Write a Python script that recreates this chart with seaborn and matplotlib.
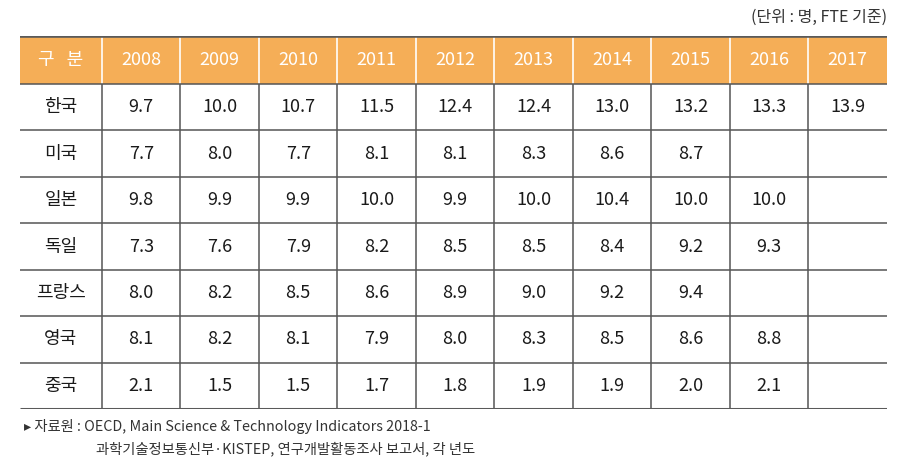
import matplotlib
matplotlib.use("Agg")
import matplotlib.pyplot as plt
import numpy as np
import pandas as pd
import seaborn as sns

# 표 데이터
연도 = ["2008", "2009", "2010", "2011", "2012", "2013", "2014", "2015", "2016", "2017"]
국가 = ["한국", "미국", "일본", "독일", "프랑스", "영국", "중국"]
한국 = [9.7, 10.0, 10.7, 11.5, 12.4, 12.4, 13.0, 13.2, 13.3, 13.9]
미국 = [7.7, 8.0, 7.7, 8.1, 8.1, 8.3, 8.6, 8.7, np.nan, np.nan]
일본 = [9.8, 9.9, 9.9, 10.0, 9.9, 10.0, 10.4, 10.0, 10.0, np.nan]
독일 = [7.3, 7.6, 7.9, 8.2, 8.5, 8.5, 8.4, 9.2, 9.3, np.nan]
프랑스 = [8.0, 8.2, 8.5, 8.6, 8.9, 9.0, 9.2, 9.4, np.nan, np.nan]
영국 = [8.1, 8.2, 8.1, 7.9, 8.0, 8.3, 8.5, 8.6, 8.8, np.nan]
중국 = [2.1, 1.5, 1.5, 1.7, 1.8, 1.9, 1.9, 2.0, 2.1, np.nan]

df = pd.DataFrame([한국, 미국, 일본, 독일, 프랑스, 영국, 중국], index=국가, columns=연도)

sns.set_style("white")
plt.rcParams['font.family'] = ['Noto Sans CJK KR', 'DejaVu Sans']

W, H = 911, 468
fig = plt.figure(figsize=(W / 100, H / 100), dpi=100)
ax = fig.add_axes([20 / W, 1 - 409 / H, 867 / W, 373 / H])

txt = "#1a1a1a"
head = "#F5AE57"
grid = "#555555"
fs = 13

# 본문 셀 (흰색 히트맵 + 값 표시)
sns.heatmap(df, ax=ax, cmap=sns.blend_palette(["white", "white"], as_cmap=True),
            cbar=False, annot=True, fmt=".1f", linewidths=0,
            annot_kws={"color": txt, "fontsize": fs})

first_w = 82 / 78.5
head_h = 48 / 46.4
ax.set_xlim(-first_w, len(연도))
ax.set_ylim(len(국가), -head_h)
ax.set_xticks([])
ax.set_yticks([])
for s in ax.spines.values():
    s.set_visible(False)

# 머리행
ax.add_patch(plt.Rectangle((-first_w, -head_h), first_w + len(연도), head_h,
                           color=head, zorder=1, lw=0))
ax.text(-first_w / 2, -head_h / 2, "구   분", ha="center", va="center",
        color="white", fontsize=fs, zorder=3)
for i, y in enumerate(연도):
    ax.text(i + 0.5, -head_h / 2, y, ha="center", va="center",
            color="white", fontsize=fs, zorder=3)

# 국가명
for j, c in enumerate(국가):
    ax.text(-first_w / 2, j + 0.5, c, ha="center", va="center",
            color=txt, fontsize=fs)

# 격자선
ax.vlines(range(0, len(연도)), -head_h, 0, colors="white", lw=1.2, zorder=2)
ax.vlines(range(0, len(연도)), 0, len(국가), colors=grid, lw=1.1, zorder=2)
ax.hlines(range(0, len(국가)), -first_w, len(연도), colors=grid, lw=1.1, zorder=2)
ax.hlines([-head_h], -first_w, len(연도), colors="#5a5a5a", lw=2.6, zorder=4)
ax.hlines([len(국가)], -first_w, len(연도), colors="#5a5a5a", lw=2.2, zorder=4)

# 단위 및 출처
fig.text(887 / W, 1 - 17 / H, "(단위 : 명, FTE 기준)", ha="right", va="center",
         fontsize=11.5, color="#333333")
fig.text(24 / W, 1 - 427 / H, "▸ 자료원 : OECD, Main Science & Technology Indicators 2018-1",
         ha="left", va="center", fontsize=10.3, color="#333333")
fig.text(96 / W, 1 - 449 / H, "과학기술정보통신부·KISTEP, 연구개발활동조사 보고서, 각 년도",
         ha="left", va="center", fontsize=10.3, color="#333333")

fig.savefig("out.png", dpi=100)
